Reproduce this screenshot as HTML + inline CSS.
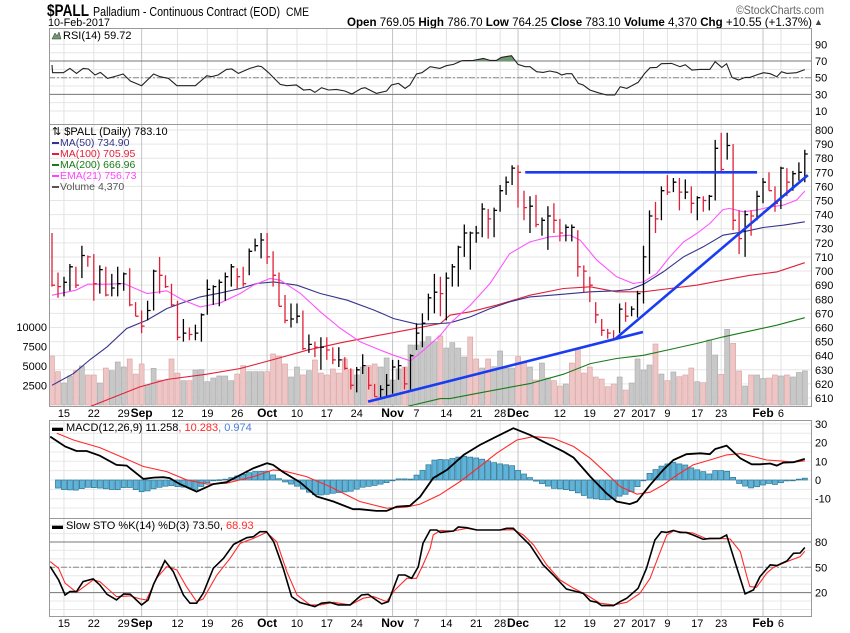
<!DOCTYPE html>
<html><head><meta charset="utf-8"><style>
html,body{margin:0;padding:0;background:#fff;}
svg{display:block;font-family:"Liberation Sans",Arial,sans-serif;}
</style></head><body>
<svg id="chart" width="850" height="633" viewBox="0 0 850 633" xmlns="http://www.w3.org/2000/svg">
<g id="hdr">
<text x="47" y="16" font-size="17" font-weight="bold" textLength="42" lengthAdjust="spacingAndGlyphs">$PALL</text>
<text x="93" y="16" font-size="13" textLength="187" lengthAdjust="spacingAndGlyphs">Palladium - Continuous Contract (EOD)</text>
<text x="286" y="16" font-size="12" textLength="23" lengthAdjust="spacingAndGlyphs">CME</text>
<text x="48" y="26" font-size="11" textLength="62" lengthAdjust="spacingAndGlyphs">10-Feb-2017</text>
<text x="736" y="14" font-size="12" fill="#666" textLength="88" lengthAdjust="spacingAndGlyphs">©StockCharts.com</text>
<text x="347" y="26" font-size="12" textLength="465" lengthAdjust="spacingAndGlyphs"><tspan font-weight="bold">Open</tspan> 769.05 <tspan font-weight="bold">High</tspan> 786.70 <tspan font-weight="bold">Low</tspan> 764.25 <tspan font-weight="bold">Close</tspan> 783.10 <tspan font-weight="bold">Volume</tspan> 4,370 <tspan font-weight="bold">Chg</tspan> +10.55 (+1.37%)</text>
<text x="814" y="25" font-size="9" fill="#444">▲</text>
</g>
<g id="grid"></g>
<g id="marks"></g>
<g id="frames"></g>
<g id="labels"></g>
</svg>
<script>
// ---------- data ----------
const dateLabels = ['15','22','29','Sep','12','19','26','Oct','10','17','24','Nov','7','14','21','28','Dec','12','19','27','2017','9','17','23','Feb','6'];
const dateLabelIdx = [2,7,12,15,21,26,31,36,41,46,51,57,61,66,71,75,78,85,90,95,99,103,108,112,119,122];
const closes = [690,689,692,703,690,711,710,691,701,683,688,691,698,676,668,661,672,700,697,689,676,653,656,655,656,669,687,689,692,696,703,696,691,714,718,722,710,697,675,665,666,668,645,648,646,646,644,637,637,631,619,630,633,619,611,616,619,632,633,620,640,656,663,681,685,684,695,703,717,727,727,727,744,737,743,757,763,773,770,745,746,733,736,739,736,727,731,731,703,700,690,669,658,656,652,673,668,673,684,710,739,737,757,756,763,756,756,748,752,750,753,787,772,789,736,723,740,739,753,763,757,748,773,763,769,770,783];
const highs = [727,699,696,705,703,718,711,712,704,703,698,703,699,702,678,672,679,701,710,697,691,679,666,660,662,670,694,690,694,699,705,702,703,716,723,727,727,714,699,683,677,677,672,655,650,653,653,646,646,639,631,632,641,632,620,619,627,637,637,632,641,663,670,684,698,696,699,705,718,733,728,732,748,744,745,761,767,775,775,757,753,754,738,746,748,737,733,733,729,704,696,678,666,659,658,677,678,675,686,718,743,749,760,768,766,766,765,760,753,753,754,793,798,798,790,743,743,743,757,766,770,760,774,773,771,777,786];
const lows = [689,681,682,686,688,695,703,679,684,682,682,682,686,675,668,656,665,672,684,688,675,651,650,651,651,650,669,676,675,679,689,687,689,697,714,709,705,689,675,663,660,663,644,642,639,630,637,634,632,630,616,614,627,616,611,610,611,613,623,616,616,644,646,665,670,668,665,689,689,710,701,720,724,723,724,742,754,761,745,736,727,731,725,715,727,721,721,721,696,685,678,663,654,652,651,656,664,668,667,677,698,727,736,754,756,743,751,741,736,742,743,750,770,779,729,712,710,725,736,748,757,742,744,753,757,764,763];
const volumes = [6280,4270,2820,3720,4400,5000,3850,3850,2820,4740,4400,5510,4870,5900,3970,5260,2560,4700,3200,3200,5900,4100,3120,3120,4490,4530,2990,3460,3720,3720,3120,3970,5040,4270,4270,4270,4270,6540,6280,5260,3590,4870,3850,4400,5770,4100,3850,4620,4100,5900,4530,3850,4870,5040,5260,4870,6030,3200,4620,4870,7690,7690,8120,8760,8120,8850,7300,7990,7300,6150,8720,5900,4740,5900,4910,6920,4740,4740,6200,5380,4870,3200,5380,3460,3120,2430,2690,5380,7180,4100,4870,3590,3330,2350,2690,3590,1920,2820,5900,4490,5130,7820,3970,3120,4230,3630,3850,4740,2990,2860,8330,6410,3930,9700,7900,4360,2430,3850,3850,3400,3460,3850,3720,3850,3590,4170,4370];
const ema21Idx = [0,4,6,9.2,12,15.9,19.2,22,24.8,28.2,31.5,33.7,36.5,38.2,41.6,44.9,48.3,51.6,55,57.2,60,62.2,65,66.6,70,73.3,76.6,80,83.3,86.7,88.4,91.2,94.5,97.3,99,101.2,103.4,105.7,107.9,110.1,112.3,113.4,115.7,117.9,120.2,122.4,124.6,126];
const ema21Val = [682.9,686.4,690.7,690.7,691.2,684.1,686,679.3,674.6,677.5,684.1,690,694.7,693.5,684.1,671.1,659.3,649.8,643.9,640.3,636.3,643.9,654.5,662.8,675.8,691.2,712.4,720.7,724.3,725.4,721.9,707.7,695.9,691.2,692.3,698.3,710.1,720.7,726.6,733.7,743.6,744.4,742,743.2,745.5,746.7,750.3,756.7];
const ma50Idx = [0,3.6,6.4,9.2,12.5,15.9,19.2,21.5,24.8,28.2,31.5,34.3,37.1,41,44.9,49.4,53.9,57.2,61.1,65,66.6,70,73.3,76.6,80,85.6,90.1,94.5,96.7,99,102.3,105.7,109,112.3,115.7,119,122.4,126];
const ma50Val = [619,627.3,637.3,646.2,659.3,665.2,673.4,677,681.7,684.5,687.6,691.2,692.3,690,684.1,679.3,672.3,666.3,662.3,662.8,663.3,667.5,673.4,678.2,681.7,683.6,685.3,686,686.9,690.7,699.4,710.1,717.2,725.4,727.8,730.9,732.5,734.9];
const ma100Idx = [5.8,14.7,19.2,25.9,31.5,37.1,42.7,48.3,53.9,59.4,65,66.6,70,74.4,80,85.6,90.1,94.5,99,103.4,107.9,112.3,116.8,121.3,126];
const ma100Val = [603,617.9,623.1,626.9,630.9,637.3,643.9,649.1,653.8,658.1,662.8,668.7,671.1,675.8,682.9,687.6,688.8,685.3,685.3,687.6,690,693.5,697,699.4,705.9];
const ma200Idx = [59.4,65,66.6,73.3,80,85.6,90.1,94.5,99,103.4,107.9,112.3,116.8,121.3,126];
const ma200Val = [604,609.6,609.6,615,620.2,626.9,634.4,638,640.3,644.4,648.6,653.3,657.4,661.6,666.9];
const rsiIdx = [0,0.1,1.9,3,4.1,5.2,6.1,7.2,8.1,9.3,10.8,11.9,13.1,15,17,18.1,19.5,20.9,24,25.9,26.7,27.8,29.2,30.1,31.2,33.1,34.5,35.1,36.2,38.2,39.3,40.9,42.1,43.2,44,45.1,46.3,47.6,49,50.2,51.8,52.4,54.3,56,56.8,58,59.1,59.9,61,61.9,63.3,64.9,66,67.2,68.6,70.5,72.2,73.3,74.4,75.2,76.9,78,79.2,80,81.1,82.2,83.3,84.5,85.3,86.1,87,88.1,88.9,90,91.4,92.8,94.2,95.1,96.2,98.1,99.2,100.1,101.2,102,103.7,105.1,106,107.1,108.4,110.1,111,112.1,112.9,113.8,114.9,116,116.8,118.2,119.1,120.2,121.3,122.1,123,124.6,126];
const rsiVal = [65.2,56,56,61.2,55.2,61.2,60.4,53.2,56.4,49.2,52,54.4,46,40.4,54.4,51.2,49.2,40.4,40.4,52.4,51.2,53.2,60,60.4,55.2,61.2,64,63.2,56.4,42,40.4,41.2,35.2,36,32.4,38,35.2,36,34,30.4,37.2,38,31.2,34,41.2,43.2,37.2,41.2,54.4,56,63.2,61.2,64.4,66,70.4,70.8,73.2,70.8,70.8,74.4,76.4,66,63.2,63.2,57.2,56.4,58,56.4,53.2,54.8,54.8,43.2,41.2,35.2,32,29.2,29.2,39.2,37.2,44.4,55.2,62,62.4,66.8,67.2,63.2,65.6,59.2,60,60,69.2,62.4,66.8,50.4,47.2,50.4,50.4,54,56,54.8,51.2,57.2,55.2,56,59.7];
const macdIdx = [-0.3,2.2,4.1,5.8,8,10.8,12.5,15.3,17,18.6,19.7,21.4,24.2,27,29.2,31.5,33.7,36,37,38.7,41.5,44.3,47.1,50.4,51.5,54.3,56,57.7,59.9,61.6,63.8,66.1,68.9,71.6,74.4,77.2,80,82.8,85.6,87.3,90.1,92.8,94.5,96.7,97.9,100.1,102.3,104,106.2,108.5,110.1,111,112.9,115.2,117.1,118.5,120.2,121.3,122.4,124.1,126];
const macdVal = [23.2,17.9,15.5,15.5,13,8.1,7.7,0.6,1.3,1.5,1,-2.2,-6.2,-2.2,-1.2,2.7,6.3,9,8.1,4.2,-1.2,-8.8,-11.5,-15.6,-15.6,-16.5,-16.5,-14.2,-13.8,-9,1,5.4,13.4,18.7,23.2,27.7,24.1,19.6,15.2,12,1.8,-7.1,-11.5,-12.9,-11.5,-2.6,5.4,10.7,13.8,14.3,13.8,16.6,18.4,11.6,8.4,8.4,8.8,7.7,9.3,9.5,11.26];
const sigIdx = [0.8,3.6,8,11.9,15.3,19.2,22.5,25.9,29.2,33.7,37,38.7,42.6,46.5,51.5,56,59.3,61.6,64.9,68.3,71.6,74.4,77.8,80.6,83.9,87.3,90.1,92.8,95.1,97.9,100.1,102.3,104.6,107.3,110.1,112.9,115.2,117.4,119.6,121.9,124.1,126];
const sigVal = [25,21.4,17.3,12,7.2,4.5,0.1,-2.2,-1.7,1.8,5.4,4.9,1.8,-3.5,-11.5,-15.1,-14.5,-12.9,-7.9,-0.8,7.2,14.3,21.4,23.2,22.3,17.9,11.6,3.6,-3.5,-7.6,-6.5,-2.6,2.7,8.1,10.7,13.4,14.1,12.5,10.7,10.2,9.5,10.28];
const stoKIdx = [-0.3,1.1,2.2,3,4.1,5.2,6.9,8,9.2,10.8,12,13.1,15,16.1,17,18.1,18.9,20.3,22,23.1,24.2,25.3,27,28.7,30.4,31.5,32.6,33.7,34.8,35.9,37.1,38.7,40.1,41.5,44,45.1,46.5,47.9,49.9,51.8,52.9,55.2,56.3,58,59.1,60.2,61.3,62.1,63.3,64.4,65,66.1,67.2,68,69.4,71.1,75,76.1,77.2,78.3,80,82.2,83.9,86.1,87.8,88.9,90.1,91.2,92,94,95.1,96.2,98.1,99.5,100.9,102,102.9,104,105.1,106.2,107.3,109,110.1,111.8,112.9,114.3,116,117.4,118.5,120.2,121.3,123,124.1,125.2,126];
const stoKVal = [50.8,35,17.2,21.2,21.2,33,36.2,29.1,18,11.3,18.4,18,5.4,11.3,29.9,45.7,57.9,44.9,17.2,7.4,7.4,19.2,48.8,60.7,77.2,81.2,85.1,86.3,92.2,92.2,80.4,48.8,15.3,8.2,3.4,7.4,8.5,5.4,5.4,17.2,18,6.6,9.3,40.9,40.9,37,50.8,78.4,94.2,94.2,91.4,92.2,93,97.8,97,94.2,94.2,96.2,96.2,88.3,76.4,52.8,40.9,24.3,21.2,19.2,10.1,8.5,4.6,4.6,9.3,13.3,25.1,48.8,82.4,92.2,91.4,93.8,91.4,91.1,88.3,83.2,84.3,84.3,88.3,56.7,18.4,23.2,39,52.8,52,57.5,66.6,67,73.5];
const stoDIdx = [-0.3,1.1,2.2,4.1,6.9,8,10.8,13.1,14.7,15.8,17.5,19.2,20.9,22.5,24.2,25.3,27.6,29.8,31.5,33.7,35.9,37.6,39.3,41,43.2,44.9,47.1,49.9,52.1,53.8,56,57.4,59.4,61,62.1,63.3,63.8,65,67.2,69.4,71.1,75,77.2,78.9,80.6,82.8,85,87.3,89.5,91.7,94,96.2,98.4,100.1,101.8,102.9,104,105.1,107.3,109.6,111.8,113.5,115.2,116.3,116.8,117.9,119.6,120.7,123,125.2,126];
const stoDVal = [56.7,48.8,31.1,20.4,35,33,15.3,16.1,12.5,11.3,37,50.8,46.8,27.1,9.3,12.5,40.9,60.7,78.4,84.3,91.4,80.4,44.9,17.2,5.4,5.4,8.5,5.4,13.3,15.3,9.3,23.2,37,37,52.8,72.5,88.3,93.8,93,96.2,94.2,94.2,94.6,88.3,76.4,52.8,35,25.1,17.2,7.4,5.4,8.5,19.2,37,68.6,88.3,93,92.2,90.7,83.6,84.3,83.6,68.6,39,27.1,26.3,42.9,49.6,56.7,62.6,68.93];
const priceTicks = [610,620,630,640,650,660,670,680,690,700,710,720,730,740,750,760,770,780,790,800];
const volTicks = [2500,5000,7500,10000];
const volTickLabels = ['2500','5000','7500','10000'];
const rsiTicks = [10,30,50,70,90];
const macdTicks = [-10,0,10,20,30];
const stoTicks = [20,50,80];
const resistanceLine = {i0:79.2, i1:118, p0:770, p1:770};
const supportLine = {i0:52.9, i1:98.9, p0:607.4, p1:656.8};
const steepLine = {i0:94.2, i1:126.5, p0:651.6, p1:768};

// ---------- scales ----------
const NS='http://www.w3.org/2000/svg';
const XL=49, XR=812;
const P={rsi:[28,124], main:[124,406], macd:[420,518], sto:[518,616]};
const xi = i => 52 + 5.975*i;
const yR = v => 77.7 - (v-50)*0.8325;
const yP = p => 130 + (800-p)*1.4105;
const yV = v => 405 - v*0.0078;
const yM = v => 480 - v*1.87;
const yS = v => 542 - (v-80)*0.8433;
function mk(tag, parent, attrs){const e=document.createElementNS(NS,tag);for(const k in attrs)e.setAttribute(k,attrs[k]);parent.appendChild(e);return e;}
function interp(ix, vals, i){if(i<ix[0]||i>ix[ix.length-1])return null;for(let k=1;k<ix.length;k++){if(i<=ix[k]){const t=(i-ix[k-1])/(ix[k]-ix[k-1]||1);return vals[k-1]+t*(vals[k]-vals[k-1]);}}return vals[vals.length-1];}
const svg=document.getElementById('chart');
const G=document.getElementById('grid'), M=document.getElementById('marks'), F=document.getElementById('frames'), L=document.getElementById('labels');

// clip paths
const defs=mk('defs',svg,{});
for(const k in P){const c=mk('clipPath',defs,{id:'clip-'+k});mk('rect',c,{x:XL,y:P[k][0],width:XR-XL,height:P[k][1]-P[k][0]});}
const cR=mk('clipPath',defs,{id:'clip-rsi-ob'});mk('rect',cR,{x:XL,y:P.rsi[0],width:XR-XL,height:yR(70)-P.rsi[0]});

// ---------- grids ----------
function hline(y,color,dash,name){const l=mk('line',G,{x1:XL,x2:XR,y1:y,y2:y,stroke:color,'stroke-width':1});if(dash)l.setAttribute('stroke-dasharray',dash);}
for(let v=10;v<=90;v+=10){hline(yR(v),'#e6e6e6',null,'rsi-gridline');}
priceTicks.forEach(p=>hline(yP(p),'#e6e6e6',null,'price-gridline'));
for(let v=-15;v<=30;v+=5){hline(yM(v),'#e8e8e8',null,'macd-gridline');}
for(let v=0;v<=100;v+=10){hline(yS(v),'#e8e8e8',null,'sto-gridline');}
dateLabelIdx.forEach((ix,k)=>{
  const month=isNaN(+dateLabels[k]);
  for(const k2 in P){const l=mk('line',G,{x1:xi(ix),x2:xi(ix),y1:P[k2][0],y2:P[k2][1],stroke:month?'#c4c4c4':'#e2e2e2','stroke-width':1});
    
    }
});
hline(yR(70),'#777',null,'rsi-overbought-line');
hline(yR(30),'#777',null,'rsi-oversold-line');
hline(yR(50),'#888','6,2,2,2','rsi-midline');
hline(yS(80),'#777',null,'sto-80-line');
hline(yS(20),'#777',null,'sto-20-line');
hline(yS(50),'#888','6,2,2,2','sto-50-line');

// ---------- RSI ----------
const rsiG=mk('g',M,{'clip-path':'url(#clip-rsi)'});


let rpts=rsiIdx.map((ix,k)=>xi(ix).toFixed(1)+','+yR(rsiVal[k]).toFixed(1));
const rfill=mk('polygon',rsiG,{points:xi(rsiIdx[0])+','+yR(70)+' '+rpts.join(' ')+' '+xi(rsiIdx[rsiIdx.length-1])+','+yR(70),fill:'#6f9a6f',stroke:'none','clip-path':'url(#clip-rsi-ob)'});


const rline=mk('polyline',rsiG,{points:rpts.join(' '),fill:'none',stroke:'#222','stroke-width':1.1});



// ---------- main panel ----------
const mainG=mk('g',M,{'clip-path':'url(#clip-main)'});


volumes.forEach((v,i)=>{
  const down = i===0 || closes[i]<=closes[i-1];
  const r=mk('rect',mainG,{x:xi(i)-2.5,y:yV(v),width:5,height:405-yV(v),fill:down?'#efc6c6':'#c8c8c8',stroke:down?'#d8a0a0':'#a8a8a8','stroke-width':0.6});
  
  
});
function poly(ix,vals,color,w,name,parent,yf){
  const p=mk('polyline',parent,{points:ix.map((x,k)=>xi(x).toFixed(1)+','+yf(vals[k]).toFixed(1)).join(' '),fill:'none',stroke:color,'stroke-width':w});
  
  
}
poly(ma200Idx,ma200Val,'#1a7a1a',1.1,'ma200-line',mainG,yP);
poly(ma100Idx,ma100Val,'#e0203a',1.1,'ma100-line',mainG,yP);
poly(ma50Idx,ma50Val,'#34348c',1.1,'ma50-line',mainG,yP);
poly(ema21Idx,ema21Val,'#ff55ff',1.1,'ema21-line',mainG,yP);
closes.forEach((c,i)=>{
  const down = i===0 || c<closes[i-1];
  const col=down?'#e0203a':'#000';
  const x=xi(i);
  const b=mk('path',mainG,{d:`M${x.toFixed(1)},${yP(highs[i]).toFixed(1)}V${yP(lows[i]).toFixed(1)}M${x.toFixed(1)},${yP(c).toFixed(1)}h3`,stroke:col,'stroke-width':1.3,fill:'none'});
  
  
});
[[resistanceLine,'resistance-trendline'],[supportLine,'support-trendline'],[steepLine,'rising-trendline']].forEach(([t,n])=>{
  const l=mk('line',mainG,{x1:xi(t.i0),y1:yP(t.p0),x2:xi(t.i1),y2:yP(t.p1),stroke:'#1a3cf0','stroke-width':2.6});
  
  
});

// ---------- MACD ----------
const macdG=mk('g',M,{'clip-path':'url(#clip-macd)'});


for(let i=0;i<closes.length;i++){
  const a=interp(macdIdx,macdVal,i), s=interp(sigIdx,sigVal,i);
  if(a===null||s===null)continue;
  const h=a-s, y0=yM(0), y1=yM(h);
  const r=mk('rect',macdG,{x:xi(i)-2.5,y:Math.min(y0,y1),width:5,height:Math.max(0.8,Math.abs(y1-y0)),fill:'#5fb3d9',stroke:'#2a7595','stroke-width':0.7});
  
  
}
poly(sigIdx,sigVal,'#ff2a2a',1.1,'macd-signal-line',macdG,yM);
poly(macdIdx,macdVal,'#000',1.8,'macd-line',macdG,yM);

// ---------- STO ----------
const stoG=mk('g',M,{'clip-path':'url(#clip-sto)'});


poly(stoDIdx,stoDVal,'#ff2a2a',1.1,'sto-d-line',stoG,yS);
poly(stoKIdx,stoKVal,'#000',1.6,'sto-k-line',stoG,yS);

// ---------- frames ----------
for(const k in P){const r=mk('rect',F,{x:XL+0.5,y:P[k][0]+0.5,width:XR-XL-1,height:P[k][1]-P[k][0],fill:'none',stroke:'#999','stroke-width':1});
  
  }

// ---------- labels ----------
function txt(x,y,s,opts,name){const t=mk('text',L,Object.assign({x:x,y:y,'font-size':11,fill:'#000'},opts||{}));t.textContent=s;return t;}
rsiTicks.forEach(v=>txt(815,yR(v)+4,String(v),{},'rsi-axis-label'));
priceTicks.forEach(p=>txt(815,yP(p)+4,String(p),{},'price-axis-label'));
volTicks.forEach((v,k)=>txt(47,yV(v)+4,volTickLabels[k],{'text-anchor':'end'},'volume-axis-label'));
macdTicks.forEach(v=>txt(815,yM(v)+4,String(v),{},'macd-axis-label'));
stoTicks.forEach(v=>txt(815,yS(v)+4,String(v),{},'sto-axis-label'));
[417,627].forEach(y=>dateLabelIdx.forEach((ix,k)=>{
  const month=isNaN(+dateLabels[k]);
  txt(xi(ix),y,dateLabels[k],{'text-anchor':'middle','font-weight':month?'bold':'normal','font-size':month?12:11},'date-axis-label');
}));
// panel titles
const ic=mk('path',L,{d:'M52,39 l3,-6 l2,3 l2,-4 l2,7 z',fill:'#6f9a6f',stroke:'#333','stroke-width':0.5});


txt(63,39,'RSI(14) 59.72',{},'rsi-title');
txt(52,135,'⇅ $PALL (Daily) 783.10',{},'price-legend-title');
const legend=[['MA(50) 734.90','#34348c'],['MA(100) 705.95','#e0203a'],['MA(200) 666.96','#1a7a1a'],['EMA(21) 756.73','#ff44ff'],['Volume 4,370','#555']];
legend.forEach((l,k)=>{
  const y=146+k*11;
  const sw=mk('rect',L,{x:52,y:y-4,width:7,height:2,fill:l[1]});
  
  
  txt(60,y,l[0],{fill:l[1],'font-size':10.5},'legend-entry');
});
const m=txt(52,431,'',{},'macd-title');
m.innerHTML='<tspan font-weight="bold">▬</tspan> MACD(12,26,9) 11.258<tspan fill="#ff2a2a">, 10.283</tspan><tspan fill="#4a7fdc">, 0.974</tspan>';
const s=txt(52,529,'',{},'sto-title');
s.innerHTML='<tspan font-weight="bold">▬</tspan> Slow STO %K(14) %D(3) 73.50, <tspan fill="#ff2a2a">68.93</tspan>';
</script>
</body></html>
